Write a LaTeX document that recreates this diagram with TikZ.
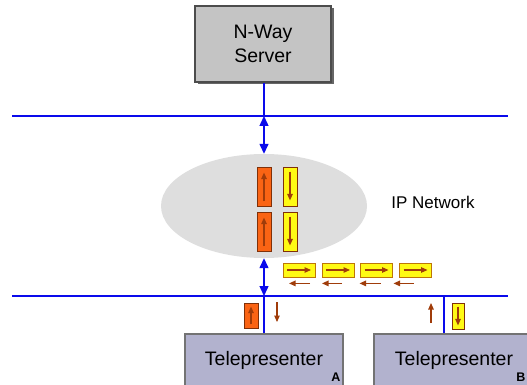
\documentclass[tikz,border=0pt]{standalone}
\usepackage{fontspec}
\setmainfont{Liberation Sans}
\usepackage{xcolor}
\usetikzlibrary{calc,arrows.meta,shapes.geometric,shadows}

\definecolor{netblue}{RGB}{10,10,235}
\definecolor{srvgray}{RGB}{196,196,196}
\definecolor{tpgray}{RGB}{178,178,206}
\definecolor{pktorange}{RGB}{250,100,20}
\definecolor{pktyellow}{RGB}{255,250,20}
\definecolor{pktbrown}{RGB}{160,60,10}

\begin{document}
\begin{tikzpicture}[x=1pt,y=-1pt,
  net/.style={netblue,line width=2.6pt},
  drop/.style={netblue,line width=1.6pt},
  link/.style={netblue,line width=1.4pt,{Triangle[length=10pt,width=9pt]}-{Triangle[length=10pt,width=9pt]}},
  flow/.style={pktbrown,line width=1.1pt,-{Triangle[length=6.5pt,width=5.5pt]}},
  pktv/.style={draw=pktbrown!80!black,line width=0.8pt,minimum width=14pt,minimum height=39pt,inner sep=0pt},
  pkth/.style={draw=pktbrown!70!yellow,line width=0.8pt,minimum width=32pt,minimum height=14pt,inner sep=0pt},
  box/.style={draw=black!70,line width=1.2pt,inner sep=0pt,font=\fontsize{19.5}{24}\selectfont,align=center},
  sub/.style={font=\fontsize{12.5}{13}\selectfont\bfseries,inner sep=0pt}]
  \useasboundingbox (0,0) rectangle (527,385);

  % server and the core network
  \node[box,fill=srvgray,minimum width=136pt,minimum height=76pt,
        drop shadow={shadow xshift=2.5pt,shadow yshift=-2.5pt,fill=black!60,opacity=1}]
        (srv) at (263,44) {N-Way\\Server};
  \coordinate (tl) at (12,116);
  \coordinate (tr) at (508,116);
  \coordinate (j1) at (264,116);
  \draw[net] (tl) -- (tr);
  \draw[drop] (srv.south -| j1) -- (j1);

  \node[ellipse,fill=black!13,minimum width=206pt,minimum height=104pt] (ipn) at (264,206) {};
  \node[font=\fontsize{17}{20}\selectfont] (ipl) at (433,202) {IP Network};
  \draw[link] (j1) -- (ipn.north);

  % packets inside the network
  \node[pktv,fill=pktorange] (o1) at (264,186.5) {};
  \node[pktv,fill=pktorange] (o2) at (264,231.5) {};
  \node[pktv,fill=pktyellow] (y1) at (290,186.5) {};
  \node[pktv,fill=pktyellow] (y2) at (290,231.5) {};
  \draw[flow] ([yshift=5pt]o1.south) -- ([yshift=-6pt]o1.north);
  \draw[flow] ([yshift=5pt]o2.south) -- ([yshift=-6pt]o2.north);
  \draw[flow] ([yshift=-5pt]y1.north) -- ([yshift=6pt]y1.south);
  \draw[flow] ([yshift=-5pt]y2.north) -- ([yshift=6pt]y2.south);

  % access network
  \coordinate (bl) at (12,296);
  \coordinate (br) at (508,296);
  \coordinate (j2) at (264,296);
  \coordinate (j3) at (444,296);
  \draw[net] (bl) -- (br);
  \draw[link] (ipn.south) -- (j2);

  \node[pkth,fill=pktyellow] (h1) at (299,270) {};
  \node[pkth,fill=pktyellow] (h2) at (338,270) {};
  \node[pkth,fill=pktyellow] (h3) at (376.5,270) {};
  \node[pkth,fill=pktyellow] (h4) at (415.5,270) {};
  \draw[flow] ([xshift=-12pt]h1.center) -- ([xshift=12pt]h1.center);
  \draw[flow] ([xshift=-12pt]h2.center) -- ([xshift=12pt]h2.center);
  \draw[flow] ([xshift=-12pt]h3.center) -- ([xshift=12pt]h3.center);
  \draw[flow] ([xshift=-12pt]h4.center) -- ([xshift=12pt]h4.center);
  \draw[flow] ([shift={(11pt,-6pt)}]h1.south) -- ([shift={(-10pt,-6pt)}]h1.south);
  \draw[flow] ([shift={(4pt,-6pt)}]h2.south) -- ([shift={(-16pt,-6pt)}]h2.south);
  \draw[flow] ([shift={(4pt,-6pt)}]h3.south) -- ([shift={(-17pt,-6pt)}]h3.south);
  \draw[flow] ([shift={(-2pt,-6pt)}]h4.south) -- ([shift={(-22pt,-6pt)}]h4.south);

  % endpoints
  \node[box,fill=tpgray,draw=black!55,minimum width=158pt,minimum height=52pt] (tpa) at (264,360) {Telepresenter};
  \node[box,fill=tpgray,draw=black!55,minimum width=160pt,minimum height=52pt] (tpb) at (454,360) {Telepresenter};
  \node[sub,anchor=south east] (la) at ([xshift=-3pt,yshift=5pt]tpa.south east) {A};
  \node[sub,anchor=south east] (lb) at ([xshift=-9pt,yshift=5pt]tpb.south east) {B};
  \draw[drop] (j2) -- (j2 |- tpa.north);
  \draw[drop] (j3) -- (j3 |- tpb.north);

  \node[pktv,fill=pktorange,minimum height=25pt] (oa) at (251,315.5) {};
  \draw[flow] ([yshift=4pt]oa.south) -- ([yshift=-4pt]oa.north);
  \coordinate (da) at (277,302);
  \draw[flow] (da) -- ([yshift=-20pt]da);
  \node[pktv,fill=pktyellow,minimum width=12pt,minimum height=26pt] (yb) at (458,316) {};
  \draw[flow] ([yshift=-4pt]yb.north) -- ([yshift=4pt]yb.south);
  \coordinate (ub) at (431,323);
  \draw[flow] (ub) -- ([yshift=20pt]ub);
\end{tikzpicture}
\end{document}
